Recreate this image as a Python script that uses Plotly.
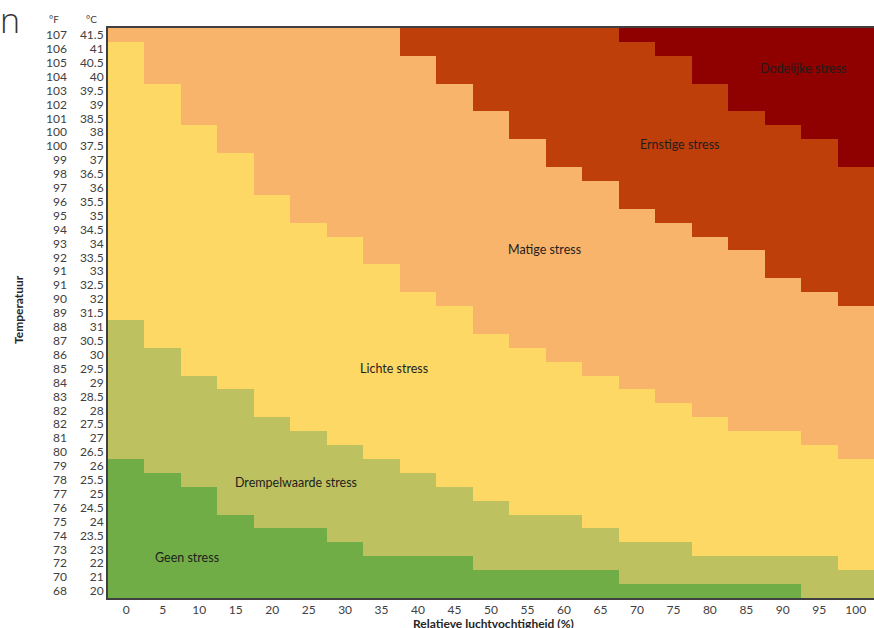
import plotly.graph_objects as go

# ---------------- data ----------------
rh_values = [0, 5, 10, 15, 20, 25, 30, 35, 40, 45, 50, 55, 60, 65, 70, 75, 80, 85, 90, 95, 100]

temp_c_labels = ["20", "21", "22", "23", "23.5", "24", "24.5", "25", "25.5", "26",
                 "26.5", "27", "27.5", "28", "28.5", "29", "29.5", "30", "30.5", "31",
                 "31.5", "32", "32.5", "33", "33.5", "34", "34.5", "35", "35.5", "36",
                 "36.5", "37", "37.5", "38", "38.5", "39", "39.5", "40", "40.5", "41", "41.5"]
temp_f_labels = ["68", "70", "72", "73", "74", "75", "76", "77", "78", "79",
                 "80", "81", "82", "82", "83", "84", "85", "86", "87", "88",
                 "89", "90", "91", "91", "92", "93", "94", "95", "96", "97",
                 "98", "99", "100", "100", "101", "102", "103", "104", "105", "106", "107"]

categories = ["Geen stress", "Drempelwaarde stress", "Lichte stress",
              "Matige stress", "Ernstige stress", "Dodelijke stress"]

# first temperature row (index from the bottom) where each stress class starts, per humidity column
start_drempel  = [10, 9, 8, 6, 5, 5, 4, 3, 3, 3, 2, 2, 2, 2, 1, 1, 1, 1, 1, 0, 0]
start_lichte   = [20, 18, 16, 15, 13, 12, 11, 10, 9, 8, 7, 6, 6, 5, 4, 4, 3, 3, 3, 3, 2]
start_matige   = [40, 37, 34, 32, 29, 27, 26, 24, 22, 21, 19, 18, 17, 16, 15, 14, 13, 12, 12, 11, 10]
start_ernstig  = [41, 41, 41, 41, 41, 41, 41, 41, 39, 37, 35, 33, 31, 30, 28, 27, 26, 25, 23, 22, 21]
start_dodelijk = [41, 41, 41, 41, 41, 41, 41, 41, 41, 41, 41, 41, 41, 41, 40, 39, 37, 35, 34, 33, 31]

colors = ["#70ad47", "#bdc160", "#fed865", "#f9b46c", "#bf3f0a", "#8f0000"]

# ---------------- build grid ----------------
row_idx = list(range(len(temp_c_labels)))
starts = [start_drempel, start_lichte, start_matige, start_ernstig, start_dodelijk]
z = []
for r in row_idx:
    row = []
    for c in range(len(rh_values)):
        row.append(sum(1 for s in starts if r >= s[c]))
    z.append(row)

n = len(colors)
colorscale = []
for i, col in enumerate(colors):
    colorscale.append([i / n, col])
    colorscale.append([(i + 1) / n, col])

W, H = 874, 628
L_PX, T_PX, B_PX = 108, 28, 30
plot_h = H - T_PX - B_PX

fig = go.Figure()
fig.add_trace(go.Heatmap(
    x=rh_values, y=row_idx, z=z,
    zmin=-0.5, zmax=n - 0.5,
    colorscale=colorscale, showscale=False,
    hoverinfo="skip",
))
# invisible trace to carry the °F axis
fig.add_trace(go.Scatter(
    x=[rh_values[0]] * len(row_idx), y=row_idx, yaxis="y2",
    mode="markers", marker=dict(opacity=0), hoverinfo="skip", showlegend=False,
))

tick_font = dict(family="Lato", size=12, color="#404040")
label_font = dict(family="Lato", size=12.5, color="#1e1e1e")

# category labels (placed in data coordinates)
label_pos = {
    "Geen stress": (8.3, 2.4),
    "Drempelwaarde stress": (23.3, 7.8),
    "Lichte stress": (36.7, 16.0),
    "Matige stress": (57.3, 24.6),
    "Ernstige stress": (75.9, 32.1),
    "Dodelijke stress": (92.8, 37.6),
}
annotations = []
for name in categories:
    x, y = label_pos[name]
    annotations.append(dict(x=x, y=y, xref="x", yref="y", text=name, showarrow=False,
                            xanchor="center", yanchor="middle", font=label_font))

def px_x(p):
    return p / W

def px_y(p):
    return (H - B_PX - p) / plot_h

def paper_note(text, x, y, font, **kw):
    d = dict(x=px_x(x), y=px_y(y), xref="paper", yref="paper", text=text,
             showarrow=False, xanchor="center", yanchor="middle", font=font)
    d.update(kw)
    return d

annotations += [
    paper_note("°F", 54, 19, dict(family="Lato", size=10, color="#404040")),
    paper_note("°C", 91, 19, dict(family="Lato", size=10, color="#404040")),
    paper_note("<b>Temperatuur</b>", 18, 310, dict(family="Lato", size=12, color="#262626"),
               textangle=-90),
    paper_note("<b>Relatieve luchtvochtigheid (%)</b>", 493, 623,
               dict(family="Lato", size=12, color="#262626")),
    paper_note("n", 10, 20, dict(family="Open Sans", size=34, color="#333333", weight=300)),
]

fig.update_layout(
    width=W, height=H,
    margin=dict(l=0, r=0, t=T_PX, b=B_PX),
    paper_bgcolor="white", plot_bgcolor="white",
    showlegend=False,
    xaxis=dict(
        domain=[L_PX / W, 1],
        range=[-2.5, 102.5],
        tickvals=rh_values, ticktext=[str(v) for v in rh_values],
        tickfont=tick_font, ticks="", showgrid=False, zeroline=False,
        showline=True, linecolor="#404040", linewidth=2, mirror=True,
    ),
    yaxis=dict(
        range=[-0.5, len(row_idx) - 0.5],
        tickvals=row_idx, ticktext=temp_c_labels,
        tickfont=tick_font, ticks="", showgrid=False, zeroline=False,
        showline=True, linecolor="#404040", linewidth=2,
    ),
    yaxis2=dict(
        overlaying="y", anchor="free", position=px_x(67), side="left",
        range=[-0.5, len(row_idx) - 0.5],
        tickvals=row_idx, ticktext=temp_f_labels,
        tickfont=tick_font, ticks="", showgrid=False, zeroline=False, showline=False,
    ),
    annotations=annotations,
)

fig.write_html(
    "out.html",
    config={"displayModeBar": False},
    post_script="document.body.style.margin='0';document.body.style.overflow='hidden';",
)
